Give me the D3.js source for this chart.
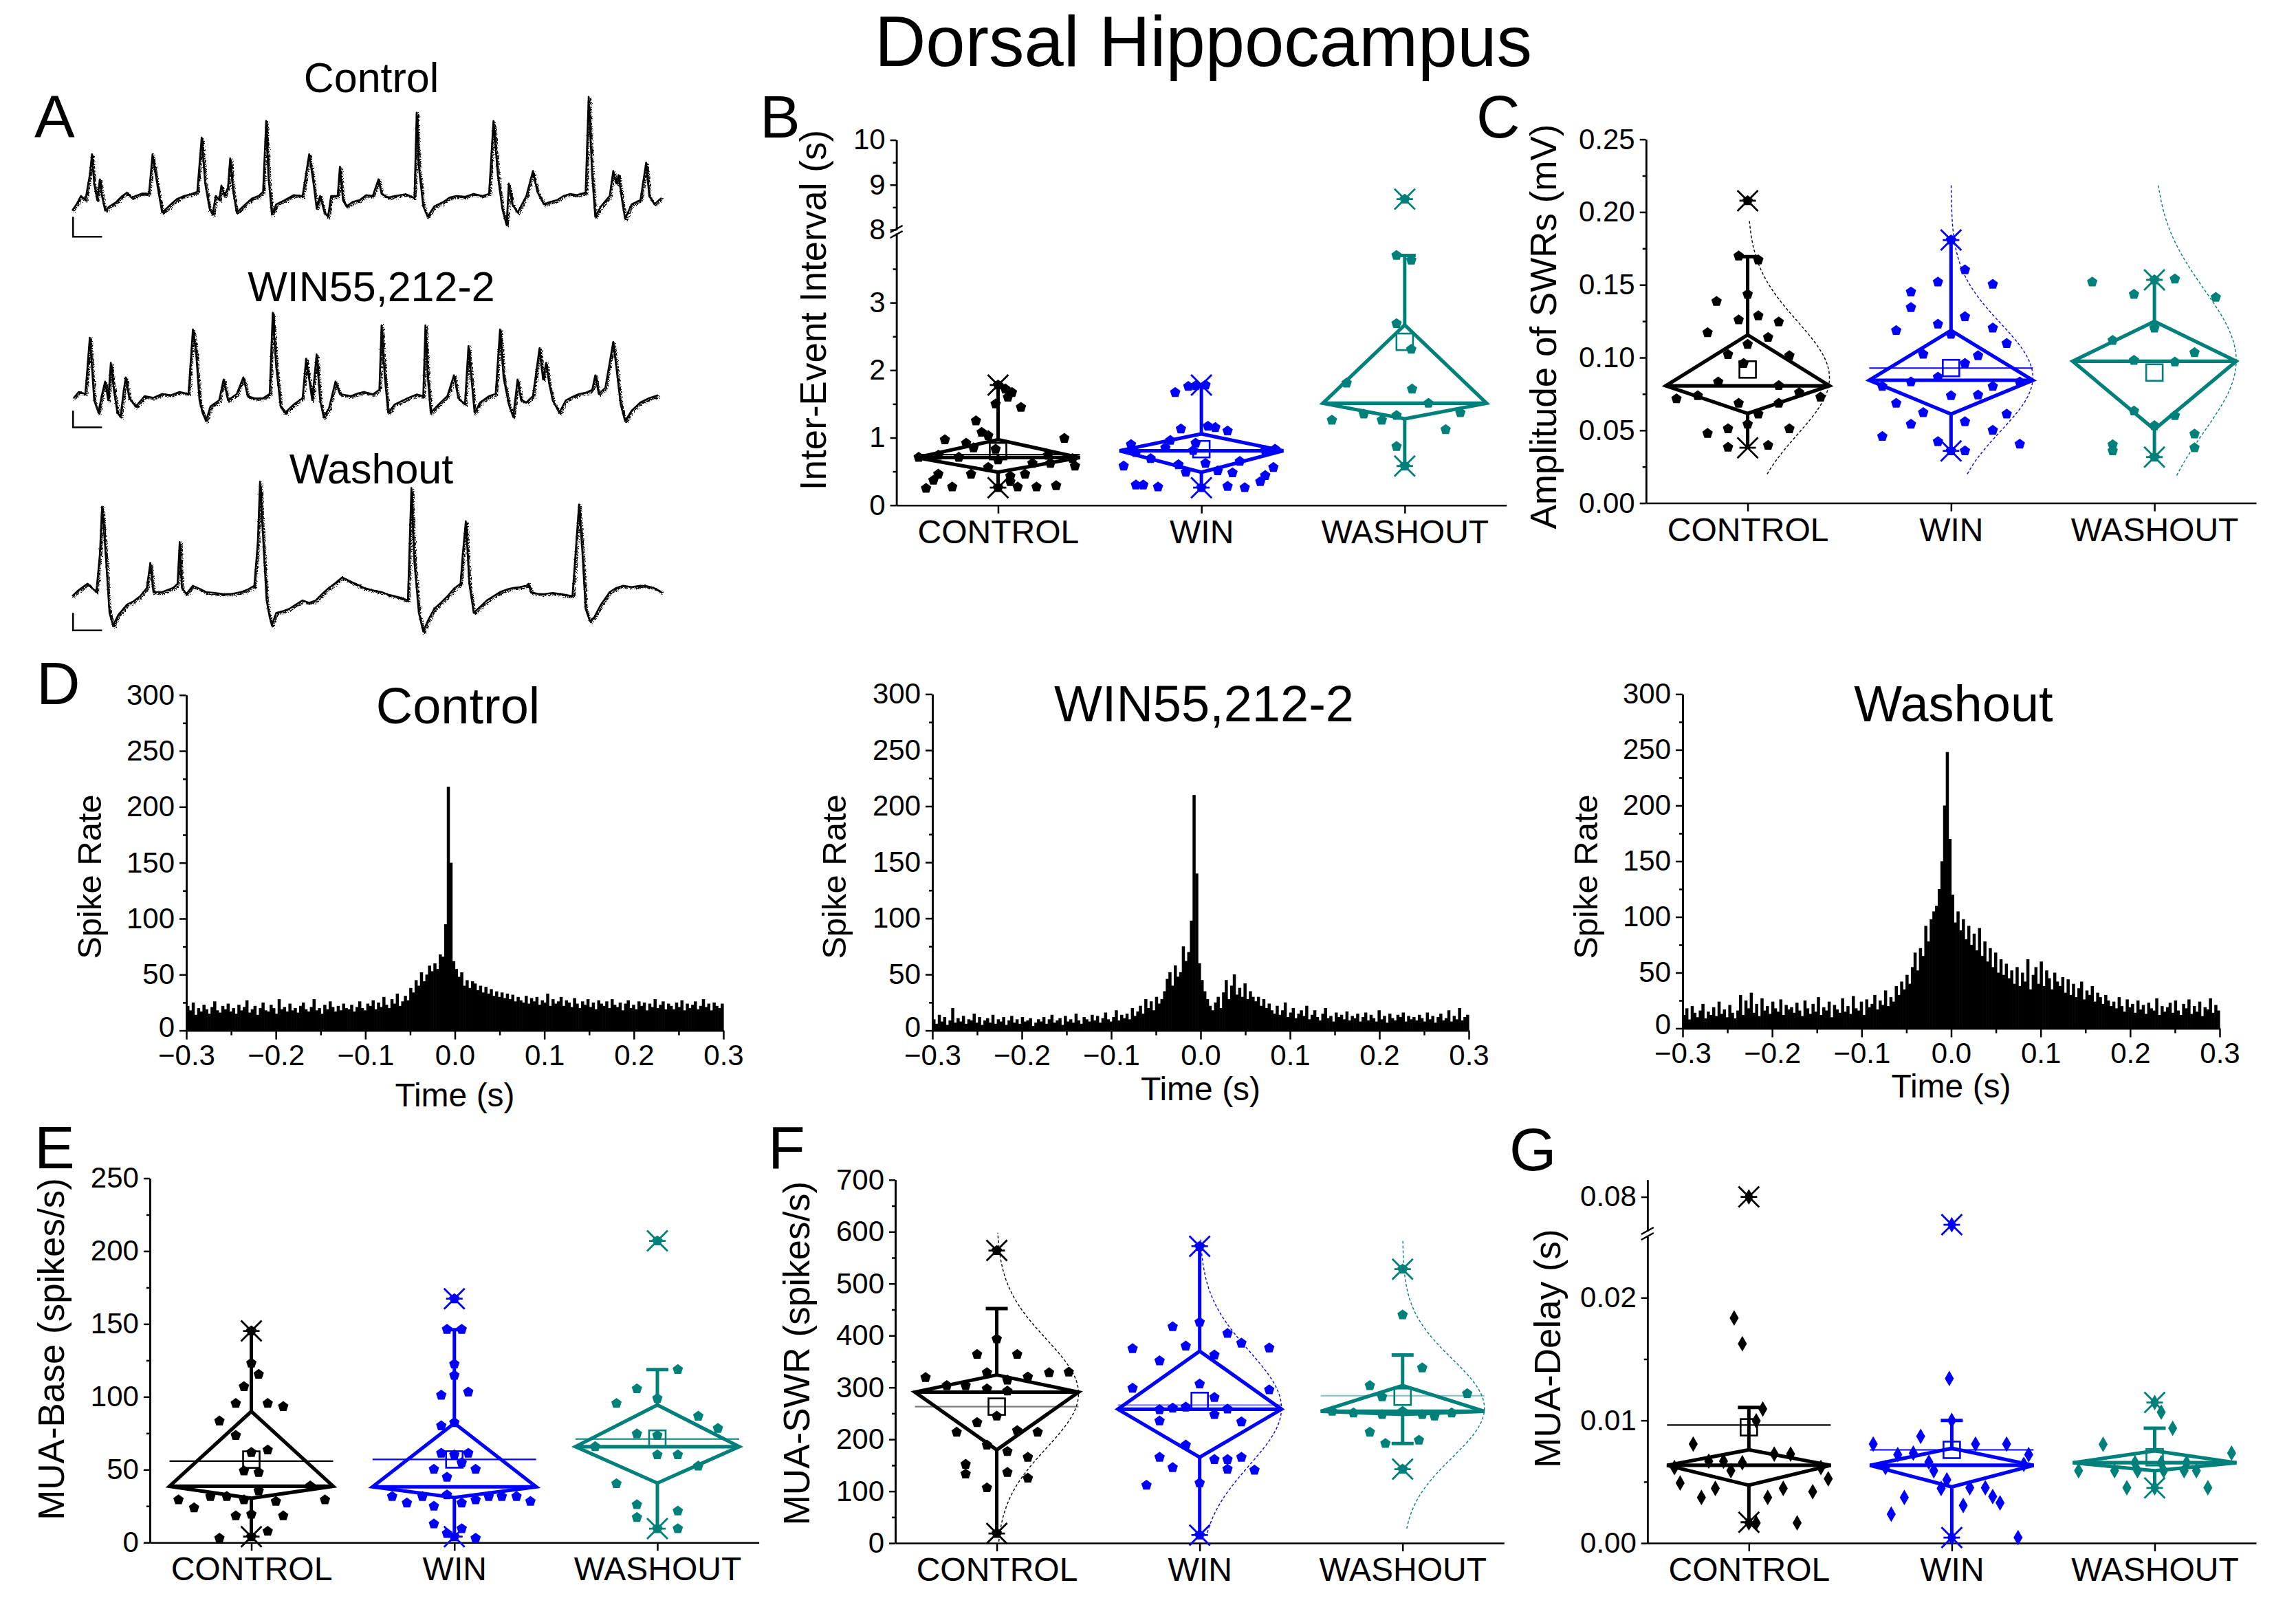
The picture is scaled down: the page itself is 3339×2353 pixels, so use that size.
<!DOCTYPE html>
<html>
<head>
<meta charset="utf-8">
<script src="https://cdn.jsdelivr.net/npm/d3@7"></script>
<style>
  body { margin: 0; background: #fff; }
  svg text { font-family: "Liberation Sans", Arial, Helvetica, sans-serif; }
</style>
</head>
<body>
<svg id="fig" width="3339" height="2353"></svg>
<script>
// ---------------- data ----------------
const groups = ["CONTROL", "WIN", "WASHOUT"];
const groupColors = ["#000000", "#0000ff", "#00807a"];

// panel A: LFP traces, [time sample, amplitude]
const traceTitles = ["Control", "WIN55,212-2", "Washout"];
const traceControl = [[0,-25],[10,-10],[20,10],[30,0],[40,60],[45,110],[50,40],[57,0],[63,50],[68,10],[75,-25],[85,-15],[100,-5],[112,8],[125,18],[135,6],[145,10],[160,16],[175,15],[183,110],[195,30],[205,-30],[220,-15],[238,2],[255,10],[270,14],[285,20],[295,150],[303,40],[313,-20],[320,-35],[327,10],[335,0],[340,35],[347,10],[355,30],[360,100],[367,20],[375,-30],[395,-10],[410,4],[425,10],[435,20],[442,190],[447,60],[455,-35],[465,-10],[485,0],[505,12],[525,10],[540,110],[550,40],[557,-20],[565,10],[575,-30],[583,-40],[590,10],[605,10],[610,80],[617,0],[625,-15],[640,-4],[655,0],[670,12],[685,10],[698,50],[705,15],[720,6],[735,10],[760,14],[780,5],[785,210],[790,80],[800,-15],[810,-40],[825,-15],[845,-5],[860,6],[875,10],[895,8],[915,15],[935,10],[950,15],[960,190],[970,60],[980,-20],[990,-60],[995,40],[1003,-10],[1015,-30],[1035,10],[1050,70],[1060,20],[1075,-10],[1090,-4],[1105,0],[1120,10],[1135,15],[1150,12],[1170,18],[1177,248],[1185,60],[1192,-40],[1205,-15],[1225,10],[1233,70],[1240,40],[1245,60],[1253,0],[1260,-45],[1275,-10],[1295,0],[1308,90],[1315,10],[1327,-10],[1343,5]];
const traceWin = [[3,-5],[15,10],[30,5],[40,140],[45,70],[50,-10],[60,-40],[67,0],[75,35],[82,-10],[88,80],[95,15],[103,-40],[110,-50],[117,10],[122,45],[130,-5],[145,-25],[165,0],[185,-4],[205,5],[225,2],[245,10],[265,5],[275,160],[282,110],[290,-10],[297,-40],[305,-60],[315,-25],[335,-10],[345,40],[355,-10],[375,5],[390,45],[400,0],[418,-6],[435,-5],[450,5],[457,200],[465,70],[475,-25],[485,-40],[505,-20],[525,-5],[533,90],[540,40],[547,-10],[557,100],[565,-10],[573,-50],[585,-30],[600,35],[610,5],[635,0],[650,6],[665,10],[685,4],[700,15],[705,170],[712,50],[720,-40],[735,-20],[765,-5],[785,4],[800,0],[805,170],[810,50],[817,-40],[835,-20],[855,0],[870,50],[880,-5],[895,-20],[903,120],[910,40],[917,-40],[930,-15],[950,0],[965,5],[975,160],[983,45],[995,-20],[1005,-50],[1015,40],[1023,-10],[1035,-15],[1050,0],[1065,115],[1073,40],[1080,80],[1087,30],[1095,-10],[1110,-40],[1125,-10],[1140,-2],[1155,5],[1170,8],[1185,15],[1192,50],[1200,5],[1215,20],[1233,130],[1240,70],[1250,-20],[1260,-60],[1275,-35],[1295,-15],[1315,-5],[1335,2]];
const traceWashout = [[0,-10],[15,5],[35,20],[55,0],[63,90],[68,205],[75,110],[85,-50],[93,-80],[105,-55],[125,-30],[140,-22],[155,-10],[170,10],[178,70],[185,0],[205,0],[230,10],[240,20],[245,120],[250,10],[260,-5],[275,15],[290,8],[305,0],[325,-2],[345,-5],[365,-4],[385,0],[400,6],[415,15],[423,120],[428,265],[435,130],[443,-20],[450,-60],[455,-80],[465,-50],[480,-46],[495,-40],[510,-30],[525,-20],[540,-26],[555,-20],[570,-4],[585,10],[600,22],[615,35],[635,25],[650,18],[665,10],[685,4],[705,0],[720,-6],[735,-10],[750,-14],[765,-20],[773,250],[780,70],[790,-50],[800,-95],[810,-70],[825,-40],[840,-26],[855,-10],[870,8],[885,20],[890,90],[897,170],[905,20],[915,-50],[925,-40],[945,-20],[960,-10],[975,0],[990,6],[1005,10],[1020,12],[1035,15],[1040,20],[1045,0],[1060,-4],[1075,-5],[1095,-2],[1115,-5],[1130,-8],[1140,-10],[1147,90],[1155,210],[1163,90],[1170,-40],[1180,-70],[1190,-60],[1205,-30],[1225,0],[1240,10],[1255,15],[1275,12],[1295,15],[1310,14],[1325,10],[1343,0]];

// panel D: peri-SWR spike-rate histograms, -0.3 .. 0.3 s (3 ms bins)
const histTitles = ["Control", "WIN55,212-2", "Washout"];
const timeTicks = [-0.3, -0.2, -0.1, 0, 0.1, 0.2, 0.3];
const timeMinor = [-0.25, -0.15, -0.05, 0.05, 0.15, 0.25];
const rateTicks = [0, 50, 100, 150, 200, 250, 300];
const rateMinor = [25, 75, 125, 175, 225, 275];
const histControl = [
  22,18,25,14,20,17,23,19,15,21,26,18,16,22,19,24,17,20,15,23,
  18,21,27,16,19,22,14,20,25,18,17,23,20,15,28,19,21,17,24,18,
  20,16,22,25,19,17,21,28,18,20,15,23,19,26,21,17,22,18,24,20,
  19,23,17,21,26,20,18,24,22,27,19,25,21,30,23,20,28,24,33,22,
  26,31,27,38,34,45,40,52,44,50,58,53,60,55,68,66,95,218,150,62,
  55,48,52,40,45,38,44,42,36,40,34,39,33,37,31,35,30,34,29,33,
  28,32,26,30,27,25,31,24,29,26,30,23,27,25,33,22,28,24,26,30,
  22,27,25,21,29,24,20,26,23,28,21,25,19,27,24,22,26,20,28,23,
  21,25,18,24,27,20,23,19,26,22,25,18,24,21,28,20,23,26,19,24,
  22,19,25,21,27,18,24,20,23,26,19,22,28,21,24,18,25,22,20,24];
const histWin = [
  10,6,14,8,12,5,9,20,7,11,8,13,6,10,9,15,7,12,5,9,
  11,7,14,6,10,8,12,5,9,13,7,10,6,12,8,9,11,4,7,10,
  8,12,6,10,14,7,9,11,5,13,8,10,7,15,9,6,12,10,8,14,
  9,13,7,11,16,10,8,12,18,9,14,11,15,10,20,13,17,22,15,28,
  20,26,18,30,24,28,35,46,52,40,58,48,52,75,62,70,98,210,140,60,
  45,35,28,22,18,25,30,20,34,45,28,40,50,32,38,30,42,28,35,30,
  26,30,22,28,20,24,18,15,22,14,18,25,12,16,20,11,15,18,13,22,
  10,14,18,12,9,15,20,11,13,8,16,12,14,10,17,9,13,11,15,8,
  12,16,9,14,11,8,18,10,13,7,15,11,9,14,12,16,8,13,10,12,
  9,14,11,8,16,10,13,7,12,15,9,11,18,8,13,10,20,9,12,14];
const histWashout = [
  12,18,8,20,14,10,16,22,9,15,12,19,11,24,13,17,10,21,14,9,
  16,30,12,25,18,32,14,22,11,27,16,20,13,24,18,15,26,12,21,17,
  19,14,23,16,11,25,18,13,22,15,28,12,19,16,24,10,21,17,14,27,
  15,20,13,29,18,16,24,12,26,19,22,30,17,25,21,34,20,28,24,38,
  30,42,35,48,40,55,68,52,72,65,92,78,98,105,110,125,150,200,248,170,
  120,95,105,88,98,80,92,75,85,70,90,65,78,60,72,55,68,50,62,48,
  58,45,52,40,55,38,50,42,62,35,48,55,40,60,38,52,45,35,50,42,
  38,46,32,44,30,40,28,36,42,26,34,30,38,24,32,28,22,30,25,20,
  24,18,28,20,15,26,19,22,14,25,17,21,13,23,18,16,27,12,20,15,
  19,23,14,25,16,12,22,18,26,13,20,15,24,11,19,17,27,14,21,16];

// panel B: inter-event interval (s); points are [value, jitter]
const iieTicks = [[0, 1, 2, 3], [8, 9, 10]];
const iieMinor = [[0.5, 1.5, 2.5, 3.5], [8.5, 9.5]];
const iieStats = [
  {q1: 0.49, med: 0.705, q3: 0.97, mean: 0.80, meanLine: 0.75, lo: 0.26, hi: 1.78, loStar: true, hiStar: true, out: []},
  {q1: 0.487, med: 0.806, q3: 1.056, mean: 0.83, meanLine: null, lo: 0.26, hi: 1.78, loStar: true, hiStar: true, out: []},
  {q1: 1.28, med: 1.51, q3: 2.67, mean: 2.42, meanLine: null, lo: 0.58, hi: 3.70, loStar: true, hiStar: false, out: [8.68]}];
const iiePoints = [
  [[1.78,0],[1.72,0.09],[1.67,0.17],[1.60,0.12],[1.50,-0.03],[1.45,0.28],[1.25,-0.27],[1.08,-0.2],[1.03,-0.12],[0.97,-0.65],[0.92,-0.39],[0.99,0.81],[0.83,-0.03],[0.85,-0.3],[0.74,-0.73],[0.71,-0.48],[0.74,0.61],[0.69,0.91],[0.58,0.94],[0.62,0.42],[0.67,0],[0.56,-0.12],[0.46,-0.73],[0.46,-0.33],[0.43,0.15],[0.46,0.33],[0.37,-0.79],[0.25,-0.88],[0.27,-0.56],[0.27,0.24],[0.27,0.47],[0.29,0.71],[0.35,0.15],[0.62,0.64],[0.71,-0.97],[0.26,0]],
  [[1.67,-0.32],[1.76,-0.16],[1.77,-0.07],[1.78,0.05],[1.13,-0.25],[1.17,0.08],[1.15,0.17],[1.10,0.32],[0.96,-0.38],[0.90,-0.86],[0.85,-0.44],[0.92,-0.07],[0.83,0.9],[0.81,0.78],[0.78,-0.8],[0.69,-0.62],[0.60,-0.28],[0.62,0.05],[0.65,0.47],[0.58,-0.95],[0.56,0.88],[0.49,-0.19],[0.51,0.2],[0.48,0.38],[0.44,0.78],[0.35,0.72],[0.30,-0.8],[0.30,-0.71],[0.27,-0.53],[0.28,0.32],[0.26,0.53],[0.26,0],[0.81,-0.1]],
  [[8.68,0],[3.70,-0.1],[3.63,0.08],[2.69,-0.1],[2.31,0.08],[1.81,-0.71],[1.72,0.09],[1.26,-0.89],[1.35,-0.5],[1.26,-0.28],[1.33,-0.1],[1.51,0.29],[1.37,0.68],[1.12,0.5],[0.87,-0.1],[0.58,0]]];

// panel C: amplitude of SWRs (mV)
const ampTicks = [[0, 0.05, 0.10, 0.15, 0.20, 0.25]];
const ampMinor = [[0.025, 0.075, 0.125, 0.175, 0.225]];
const ampStats = [
  {q1: 0.0616, med: 0.0806, q3: 0.1156, mean: 0.0918, meanLine: null, lo: 0.038, hi: 0.1694, loStar: true, hiStar: false, out: [0.2078]},
  {q1: 0.0612, med: 0.0844, q3: 0.1186, mean: 0.0928, meanLine: 0.0928, lo: 0.0359, hi: 0.1808, loStar: true, hiStar: true, out: []},
  {q1: 0.0506, med: 0.0975, q3: 0.1249, mean: 0.0897, meanLine: null, lo: 0.0316, hi: 0.1534, loStar: true, hiStar: true, out: []}];
const ampCurves = [
  {mean: 0.086, sd: 0.039, lo: 0.02, hi: 0.195},
  {mean: 0.0865, sd: 0.037, lo: 0.02, hi: 0.219},
  {mean: 0.098, sd: 0.049, lo: 0.019, hi: 0.219}];
const ampPoints = [
  [[0.2078,0],[0.1698,-0.11],[0.1671,0.13],[0.1435,0],[0.1386,-0.38],[0.1259,-0.11],[0.1287,0.13],[0.1245,0.38],[0.1171,-0.49],[0.1139,0.25],[0.1091,0],[0.1021,-0.24],[0.1013,0.51],[0.096,-0.05],[0.0833,-0.36],[0.0808,0.38],[0.0738,-0.61],[0.0717,-0.87],[0.0759,0.63],[0.0728,0.89],[0.0686,-0.11],[0.0686,0.38],[0.0612,0.13],[0.0542,0],[0.0479,-0.49],[0.0511,-0.24],[0.0511,0.51],[0.0384,-0.24],[0.0397,0.25]],
  [[0.1808,0],[0.1603,0.17],[0.1519,-0.16],[0.1504,0.51],[0.1451,-0.49],[0.1344,-0.49],[0.1186,-0.67],[0.123,-0.16],[0.1281,0.17],[0.1203,0.51],[0.116,0],[0.1097,0.68],[0.1023,-0.34],[0.1013,0.33],[0.096,0.17],[0.0865,-0.16],[0.0833,-0.49],[0.0802,-0.84],[0.0802,0.51],[0.0833,0.84],[0.0738,0],[0.0743,0.33],[0.0686,-0.67],[0.0622,-0.34],[0.0612,0.68],[0.0559,0.17],[0.0542,-0.49],[0.05,0.51],[0.0458,-0.84],[0.0422,-0.16],[0.0405,0.84],[0.0359,0],[0.0359,0.17]],
  [[0.1519,-0.76],[0.154,0.25],[0.1534,0],[0.1435,-0.25],[0.1414,0.75],[0.1203,0],[0.1118,-0.51],[0.1034,0.49],[0.0981,-0.25],[0.097,0.25],[0.0633,-0.25],[0.0601,0.25],[0.0532,0],[0.0475,0.49],[0.0401,-0.51],[0.0359,-0.51],[0.038,0.49],[0.0316,0]]];

// panel E: MUA-Base (spikes/s)
const baseTicks = [[0, 50, 100, 150, 200, 250]];
const baseMinor = [[25, 75, 125, 175, 225]];
const baseStats = [
  {q1: 30.4, med: 38.6, q3: 90.0, mean: 56.9, meanLine: 55.8, lo: 4, hi: 145.2, loStar: true, hiStar: true, out: []},
  {q1: 30.9, med: 38.2, q3: 81.9, mean: 57, meanLine: 57, lo: 4, hi: 146, loStar: true, hiStar: false, out: [167.3]},
  {q1: 40.8, med: 65.8, q3: 94.4, mean: 71.3, meanLine: 71, lo: 9.5, hi: 118.7, loStar: true, hiStar: false, out: [207]}];
const basePoints = [
  [[145.2,0],[123.1,0],[115.4,0.09],[107,-0.09],[95.5,-0.19],[95.5,0.2],[93.3,0.39],[83.4,-0.39],[73.5,-0.19],[61.8,0],[63.5,0.2],[49.2,-0.09],[48.1,0.09],[38.8,0.72],[29.3,-0.89],[31.6,-0.5],[31.6,-0.3],[29.3,-0.09],[35.5,0.09],[28.2,0.3],[29.3,0.9],[23.8,-0.7],[18.3,-0.19],[19.4,0],[18.3,0.39],[2.9,-0.39],[7.7,0.2],[4,0]],
  [[167.3,0],[146.3,-0.09],[146.3,0.09],[122.5,0],[114.7,0],[101.1,-0.16],[103.3,0.17],[80.1,-0.16],[82.3,0],[61.3,-0.16],[60.2,0],[61.3,0.17],[54.7,0.09],[50.3,-0.25],[50.3,0.26],[44.8,-0.09],[31.6,-0.76],[27.1,-0.58],[31.6,-0.39],[24.9,-0.25],[32.7,-0.09],[27.1,0.09],[29.3,0.26],[31.6,0.42],[31.6,0.58],[31.6,0.76],[28.2,0.93],[12.8,-0.25],[9.5,0.09],[6.2,-0.09],[2.9,0.26],[4,0]],
  [[207,0],[118.7,0.25],[105.5,-0.25],[98.9,0],[95.5,-0.5],[86.7,0.5],[78.3,0.74],[74.6,-0.25],[73.5,0],[65.8,-0.76],[60.2,0],[60.2,0.25],[52.5,0.5],[40.4,-0.5],[26,-0.25],[17.2,-0.25],[21.6,0.25],[9.5,0.25],[9.5,0]]];

// panel F: MUA-SWR (spikes/s)
const swrTicks = [[0, 100, 200, 300, 400, 500, 600, 700]];
const swrMinor = [[50, 150, 250, 350, 450, 550, 650]];
const swrStats = [
  {q1: 179.7, med: 291, q3: 324, mean: 263, meanLine: 263, lo: 18.6, hi: 452, loStar: true, hiStar: false, out: [563.8]},
  {q1: 165.4, med: 258, q3: 370, mean: 274, meanLine: 266, lo: 15.5, hi: 572, loStar: true, hiStar: true, out: []},
  {q1: 248, med: 254, q3: 303.6, mean: 282, meanLine: 284, lo: 192, hi: 362.5, loStar: false, hiStar: false, out: [527.9, 142.5]}];
const swrCurves = [
  {mean: 288, sd: 105, lo: 3, hi: 598},
  {mean: 260, sd: 110, lo: 20, hi: 585},
  {mean: 260, sd: 95, lo: 28, hi: 582}];
const swrPoints = [
  [[563.8,0],[393.4,0],[363.7,-0.24],[363.7,0.25],[319.1,-0.87],[328.4,-0.12],[314.1,0.13],[320.3,0.38],[328.4,0.64],[329.6,0.88],[303.6,-0.61],[303.6,-0.38],[297.4,-0.12],[293.1,0.13],[244.7,0],[232.3,-0.24],[213.8,-0.49],[216.9,0.25],[213.8,0.5],[189,-0.12],[176.6,0.13],[165.4,0.38],[151.8,-0.38],[133.2,-0.38],[136.3,0.13],[125.2,0.38],[106.6,-0.12],[18.6,0]],
  [[571.9,0],[425.6,0],[417,-0.33],[404,0.34],[385.4,0.51],[374.8,-0.82],[379.8,-0.17],[376.1,0.85],[362.5,0.18],[351.3,-0.49],[306.7,0],[298.6,-0.82],[295.5,0.85],[280.7,0.18],[257.1,-0.49],[260.2,-0.33],[262.1,-0.17],[247.8,0.18],[258.4,0.34],[233.6,0.51],[235.4,-0.49],[189,-0.17],[165.4,-0.49],[161.1,0.34],[165.4,0.51],[145.6,-0.33],[161.1,0.18],[142.5,0.34],[140.6,0.67],[115.9,0],[111.5,-0.65],[15.5,0]],
  [[527.9,0],[439.9,0],[337.7,0.24],[303.6,-0.4],[288.1,0.79],[281.9,-0.25],[254,-0.86],[250.9,-0.6],[247.8,-0.25],[254,0],[247.8,0.24],[244.7,0.39],[250.9,0.6],[213.8,-0.4],[192.1,-0.21],[198.3,0.2],[142.5,0]]];

// panel G: MUA-Delay (s)
const delayTicks = [[0, 0.01, 0.02], [0.08]];
const delayMinor = [[0.005, 0.015], []];
const delayStats = [
  {q1: 0.00472, med: 0.00634, q3: 0.0076, mean: 0.00944, meanLine: 0.00962, lo: 0.0017, hi: 0.01106, loStar: true, hiStar: false, out: [0.080]},
  {q1: 0.00459, med: 0.00634, q3: 0.00773, mean: 0.0076, meanLine: 0.0076, lo: 0.00045, hi: 0.0100, loStar: true, hiStar: false, out: [0.0718]},
  {q1: 0.0059, med: 0.00655, q3: 0.00752, mean: 0.0070, meanLine: null, lo: 0.0045, hi: 0.00936, loStar: true, hiStar: false, out: [0.01146]}];
const delayPoints = [
  [[0.080,0],[0.01835,-0.18],[0.01625,-0.08],[0.01093,0.17],[0.00996,0.09],[0.00807,-0.68],[0.00726,0.31],[0.00726,0.51],[0.00668,-0.49],[0.00668,-0.31],[0.00655,-0.08],[0.00616,-0.91],[0.00616,0.88],[0.0059,-0.22],[0.00524,0.97],[0.0049,-0.84],[0.00446,-0.41],[0.00446,0.42],[0.00419,0.78],[0.00372,-0.58],[0.00372,0.23],[0.00165,0],[0.00165,0.09],[0.00165,0.59]],
  [[0.0718,0],[0.01342,-0.03],[0.0087,-0.38],[0.01,0],[0.00807,-0.96],[0.00807,0.29],[0.00807,0.67],[0.00721,-0.66],[0.00734,-0.47],[0.00721,0.94],[0.0066,-0.28],[0.00616,-0.81],[0.00642,0.88],[0.0059,-0.22],[0.00516,-0.06],[0.00451,0.22],[0.00451,0.41],[0.00446,-0.13],[0.0038,0.5],[0.00328,0.59],[0.00372,-0.58],[0.00307,0.14],[0.00236,-0.74],[0.00045,0.81],[0.00045,0]],
  [[0.01146,0],[0.01067,0.08],[0.00936,0.22],[0.00805,-0.63],[0.00734,0.94],[0.0059,-0.93],[0.0059,-0.49],[0.0059,-0.21],[0.0059,0.11],[0.0059,0.36],[0.0059,0.51],[0.00451,-0.34],[0.00451,0.65],[0.00451,0],[0.00655,0.08],[0.00655,-0.24],[0.00655,0.39]]];

// ---------------- drawing ----------------
const FONT = '"Liberation Sans", Arial, Helvetica, sans-serif';
const svg = d3.select("#fig");
svg.append("rect").attr("width", 3339).attr("height", 2353).attr("fill", "#fff");

// rough look for the recorded traces (render effect only)
const filt = svg.append("defs").append("filter").attr("id", "rough")
    .attr("x", "-2%").attr("y", "-20%").attr("width", "104%").attr("height", "140%");
filt.append("feTurbulence").attr("type", "turbulence").attr("baseFrequency", "0.35 0.6")
    .attr("numOctaves", 2).attr("seed", 4).attr("result", "n");
filt.append("feDisplacementMap").attr("in", "SourceGraphic").attr("in2", "n")
    .attr("scale", 7).attr("xChannelSelector", "R").attr("yChannelSelector", "G");

function txt(x, y, s, size, anchor = "middle") {
    return svg.append("text").attr("x", x).attr("y", y)
        .attr("font-size", size).attr("text-anchor", anchor).attr("fill", "#000").text(s);
}
function vtxt(x, y, s, size) {
    return svg.append("text").attr("transform", `translate(${x},${y}) rotate(-90)`)
        .attr("font-size", size).attr("text-anchor", "middle").attr("fill", "#000").text(s);
}
function styleAxis(sel, fs) {
    sel.attr("font-family", FONT).attr("font-size", fs || 10);
    sel.select(".domain").attr("stroke", "#000").attr("stroke-width", 2.5);
    sel.selectAll(".tick line").attr("stroke", "#000").attr("stroke-width", 2.5);
    sel.selectAll(".tick text").attr("fill", "#000");
}

// title and panel letters
txt(1750, 96, "Dorsal Hippocampus", 103);
[["A", 50, 200], ["B", 1105, 200], ["C", 2147, 200], ["D", 53, 1024],
 ["E", 50, 1699], ["F", 1117, 1699], ["G", 2195, 1702]].forEach(l => txt(l[1], l[2], l[0], 88, "start"));

// ---- panel A ----
const traceX = d3.scaleLinear().domain([0, 1343]).range([105, 962]);
const traceBase = [291, 576, 861];
const traceTitleY = [134, 438, 703];
const scaleBarV = [[-40, -88], [-35, -75], [-50, -92]];
[traceControl, traceWin, traceWashout].forEach((tr, k) => {
    const y = d3.scaleLinear().domain([0, 100]).range([traceBase[k], traceBase[k] - 60.6]);
    const path = d3.line().x(d => traceX(d[0])).y(d => y(d[1]));
    svg.append("path").datum(tr).attr("d", path)
        .attr("fill", "none").attr("stroke", "#000").attr("stroke-width", 2.6)
        .attr("stroke-linejoin", "round");
    svg.append("path").datum(tr).attr("d", path)
        .attr("fill", "none").attr("stroke", "#000").attr("stroke-width", 2.4)
        .attr("stroke-linejoin", "round").attr("filter", "url(#rough)");
    const sb = scaleBarV[k];
    svg.append("path")
        .attr("d", `M${traceX(2)},${y(sb[0])}V${y(sb[1])}H${traceX(68)}`)
        .attr("fill", "none").attr("stroke", "#000").attr("stroke-width", 2.5);
    txt(540, traceTitleY[k], traceTitles[k], 61);
});

// ---- panel D ----
const histPanels = [
    {data: histControl, left: 271, right: 1052, bottom: 1498.6, top: 1010.7, titleX: 666, titleY: 1052, ylabX: 147, xlabY: 1609},
    {data: histWin, left: 1356, right: 2136, bottom: 1498.6, top: 1009.4, titleX: 1751, titleY: 1049, ylabX: 1230, xlabY: 1600},
    {data: histWashout, left: 2447, right: 3228, bottom: 1495.5, top: 1009.4, titleX: 2841, titleY: 1049, ylabX: 2323, xlabY: 1596}];
histPanels.forEach((h, k) => {
    const x = d3.scaleLinear().domain([-0.3, 0.3]).range([h.left, h.right]);
    const y = d3.scaleLinear().domain([0, 300]).range([h.bottom, h.top]);
    const bw = 0.6 / h.data.length;
    svg.append("g").selectAll("rect").data(h.data).join("rect")
        .attr("x", (d, i) => x(-0.3 + i * bw))
        .attr("width", x(bw) - x(0) + 0.6)
        .attr("y", d => y(d))
        .attr("height", d => h.bottom - y(d))
        .attr("fill", "#000");

    svg.append("g").attr("transform", `translate(0,${h.bottom})`)
        .call(d3.axisBottom(x).tickValues(timeMinor).tickSize(7).tickSizeOuter(0).tickFormat(""))
        .call(styleAxis);
    svg.append("g").attr("transform", `translate(0,${h.bottom})`)
        .call(d3.axisBottom(x).tickValues(timeTicks).tickSize(13).tickPadding(8).tickSizeOuter(0)
            .tickFormat(d3.format(".1f")))
        .call(styleAxis, 42);
    svg.append("g").attr("transform", `translate(${h.left},0)`)
        .call(d3.axisLeft(y).tickValues(rateMinor).tickSize(5).tickSizeOuter(0).tickFormat(""))
        .call(styleAxis);
    svg.append("g").attr("transform", `translate(${h.left},0)`)
        .call(d3.axisLeft(y).tickValues(rateTicks).tickSize(10).tickPadding(7).tickSizeOuter(0))
        .call(styleAxis, 42)
        .selectAll(".tick text").attr("dy", d => d === 0 ? "0.2em" : "0.32em");

    txt(h.titleX, h.titleY, histTitles[k], 74);
    vtxt(h.ylabX, 1275, "Spike Rate", 49);
    txt((h.left + h.right) / 2, h.xlabY, "Time (s)", 48);
});

// ---- diamond box panels (B, C, E, F, G) ----
const pentagon = {
    draw(ctx, size) {
        const r = Math.sqrt(size / 2.378);
        for (let i = 0; i < 5; i++) {
            const a = -Math.PI / 2 + i * 2 * Math.PI / 5;
            if (i) ctx.lineTo(r * Math.cos(a), r * Math.sin(a));
            else ctx.moveTo(r * Math.cos(a), r * Math.sin(a));
        }
        ctx.closePath();
    }
};

function segScale(segs) {
    const parts = segs.map(s => d3.scaleLinear().domain(s.d).range(s.r));
    const f = v => {
        for (let i = parts.length - 1; i > 0; i--) if (v >= segs[i].d[0]) return parts[i](v);
        return parts[0](v);
    };
    f.parts = parts;
    return f;
}

function drawBoxPanel(p) {
    const g = svg.append("g");
    const y = segScale(p.segs);
    const x = d3.scalePoint().domain(groups).range([p.left, p.right]).padding(0.5);
    const hw = 119;

    y.parts.forEach((sc, i) => {
        g.append("g").attr("transform", `translate(${p.left},0)`)
            .call(d3.axisLeft(sc).tickValues(p.minor[i]).tickSize(5).tickSizeOuter(0).tickFormat(""))
            .call(styleAxis);
        g.append("g").attr("transform", `translate(${p.left},0)`)
            .call(d3.axisLeft(sc).tickValues(p.major[i]).tickSize(9).tickPadding(7).tickSizeOuter(0).tickFormat(p.fmt))
            .call(styleAxis, 42);
    });
    if (p.breakY) {
        [-4, 4].forEach(o => g.append("line")
            .attr("x1", p.left - 9).attr("y1", p.breakY + o + 5)
            .attr("x2", p.left + 9).attr("y2", p.breakY + o - 5)
            .attr("stroke", "#000").attr("stroke-width", 2.5));
    }
    g.append("g").attr("transform", `translate(0,${p.bottom})`)
        .call(d3.axisBottom(x).tickSize(12).tickPadding(9).tickSizeOuter(0))
        .call(styleAxis, 48);
    vtxt(p.ylabX, p.ylabY, p.ylabel, 53);

    groups.forEach((name, k) => {
        const s = p.stats[k], c = groupColors[k], cx = x(name);
        const line = (x1, y1, x2, y2, w, op) => g.append("line")
            .attr("x1", x1).attr("y1", y1).attr("x2", x2).attr("y2", y2)
            .attr("stroke", c).attr("stroke-width", w).attr("stroke-opacity", op == null ? 1 : op);

        if (s.meanLine != null) line(cx - hw, y(s.meanLine), cx + hw, y(s.meanLine), 2.2, p.meanOpacity);
        if (p.curves) {
            const cv = p.curves[k];
            const vs = d3.range(61).map(i => cv.lo + (cv.hi - cv.lo) * i / 60);
            g.append("path").datum(vs)
                .attr("d", d3.line()
                    .x(v => cx + hw * Math.exp(-((v - cv.mean) ** 2) / (2 * cv.sd * cv.sd)))
                    .y(v => y(v)))
                .attr("fill", "none").attr("stroke", c).attr("stroke-width", 1.4)
                .attr("stroke-dasharray", "4,3");
        }
        line(cx, y(s.q3), cx, y(s.hi), 5);
        line(cx, y(s.q1), cx, y(s.lo), 5);
        if (!s.hiStar) line(cx - 16, y(s.hi), cx + 16, y(s.hi), 5);
        if (!s.loStar) line(cx - 16, y(s.lo), cx + 16, y(s.lo), 5);

        g.append("path")
            .attr("d", `M${cx - hw},${y(s.med)}L${cx},${y(s.q3)}L${cx + hw},${y(s.med)}L${cx},${y(s.q1)}Z`)
            .attr("fill", "none").attr("stroke", c).attr("stroke-width", 5.2);
        line(cx - hw, y(s.med), cx + hw, y(s.med), 5.2);

        g.append("g").selectAll("path").data(p.points[k]).join("path")
            .attr("transform", d => `translate(${cx + d[1] * hw},${y(d[0])})`)
            .attr("d", d3.symbol().type(p.marker).size(p.marker === pentagon ? 150 : 150))
            .attr("fill", c);

        g.append("rect").attr("x", cx - 12).attr("y", y(s.mean) - 12)
            .attr("width", 24).attr("height", 24)
            .attr("fill", "none").attr("stroke", c).attr("stroke-width", 2.6);

        const stars = s.out.slice();
        if (s.hiStar) stars.push(s.hi);
        if (s.loStar) stars.push(s.lo);
        stars.forEach(v => {
            const yy = y(v);
            g.append("path")
                .attr("d", `M${cx - 15},${yy - 15}L${cx + 15},${yy + 15}M${cx - 15},${yy + 15}L${cx + 15},${yy - 15}M${cx - 12},${yy}L${cx + 12},${yy}`)
                .attr("stroke", c).attr("stroke-width", 2.8).attr("fill", "none");
        });
    });
}

drawBoxPanel({
    stats: iieStats, points: iiePoints, left: 1303.6, right: 2190.7, bottom: 734.7,
    segs: [{d: [0, 4.03], r: [734.7, 339]}, {d: [8, 10], r: [334, 203.5]}],
    major: iieTicks, minor: iieMinor, fmt: d3.format("d"), breakY: 337,
    ylabel: "Inter-Event Interval (s)", ylabX: 1201, ylabY: 451, marker: pentagon, curves: null
});
drawBoxPanel({
    stats: ampStats, points: ampPoints, left: 2393.7, right: 3281, bottom: 731.6,
    segs: [{d: [0, 0.25], r: [731.6, 202.6]}],
    major: ampTicks, minor: ampMinor, fmt: d3.format(".2f"),
    ylabel: "Amplitude of SWRs (mV)", ylabX: 2263, ylabY: 475, marker: pentagon, curves: ampCurves
});
drawBoxPanel({
    stats: baseStats, points: basePoints, left: 217.9, right: 1103.6, bottom: 2243.2,
    segs: [{d: [0, 250], r: [2243.2, 1713.5]}],
    major: baseTicks, minor: baseMinor, fmt: d3.format("d"),
    ylabel: "MUA-Base (spikes/s)", ylabX: 93, ylabY: 1962, marker: pentagon, curves: null
});
drawBoxPanel({
    stats: swrStats, points: swrPoints, left: 1302, right: 2187.3, bottom: 2244.1,
    segs: [{d: [0, 700], r: [2244.1, 1715.8]}],
    major: swrTicks, minor: swrMinor, fmt: d3.format("d"), meanOpacity: 0.5,
    ylabel: "MUA-SWR (spikes/s)", ylabX: 1177, ylabY: 1968, marker: pentagon, curves: swrCurves
});
drawBoxPanel({
    stats: delayStats, points: delayPoints, left: 2395.8, right: 3281, bottom: 2244.1,
    segs: [{d: [0, 0.025], r: [2244.1, 1798]}, {d: [0.07, 0.085], r: [1790, 1715.8]}],
    major: delayTicks, minor: delayMinor, fmt: d3.format(".2f"), breakY: 1794,
    ylabel: "MUA-Delay (s)", ylabX: 2269, ylabY: 1961, marker: d3.symbolDiamond, curves: null
});
</script>
</body>
</html>
